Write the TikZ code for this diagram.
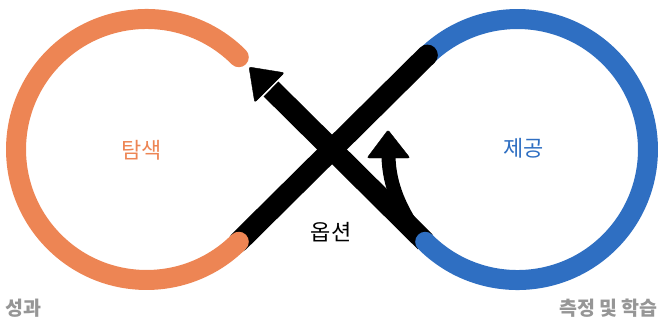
\documentclass[tikz,border=0pt]{standalone}
\usepackage{fontspec}
\newfontfamily\kr{Noto Sans CJK KR}
\usetikzlibrary{calc}
\definecolor{orng}{RGB}{237,133,84}
\definecolor{blu}{RGB}{47,111,194}
\definecolor{gry}{RGB}{150,150,150}
\begin{document}
\begin{tikzpicture}[x=1pt,y=1pt,
  ring/.style={line width=20pt,line cap=round},
  bar/.style={line width=21pt},
  thinbar/.style={line width=14pt},
  head/.style={fill=black,rounded corners=2pt},
  lbl/.style={inner sep=0pt,font=\kr\fontsize{22}{26}\selectfont},
  corner/.style={inner sep=0pt,text=gry,font=\kr\bfseries\fontsize{19.5}{23}\selectfont}]
\useasboundingbox (0,0) rectangle (659,322);
% circle centres and ends
\coordinate (L) at (146.5,172.5);
\coordinate (R) at (517.5,172.5);
\coordinate (L45) at (238.8,264.8);
\coordinate (L315) at (238.8,80.2);
\coordinate (R135) at (425.2,264.8);
\coordinate (R225) at (425.2,80.2);
% main arrow
\coordinate (Atip) at (249,255);
\coordinate (Abase) at (271,233);
\coordinate (Aw1) at (284.3,249.3);
\coordinate (Aw2) at (254.7,219.7);
\draw[bar] (R225) -- (Abase);
\draw[head] (Atip) -- (Aw1) -- (Aw2) -- cycle;
% branch arrow
\coordinate (Bstart) at (420,84);
\coordinate (Bbase) at (388.5,166);
\coordinate (Btip) at (388,192);
\coordinate (Bw1) at (367,164);
\coordinate (Bw2) at (410,164);
\draw[thinbar] (Bstart) .. controls (400,112) and (389,137) .. (Bbase);
\draw[head] (Btip) -- (Bw1) -- (Bw2) -- cycle;
% blue ring
\draw[ring,blu] (R225) arc[start angle=225,end angle=495,radius=130.5];
% black line
\draw[bar,line cap=round,shorten >=-3pt] (L315) -- (R135);
% orange ring
\draw[ring,orng] (L45) arc[start angle=45,end angle=315,radius=130.5];
% labels
\node[lbl,text=orng] (t1) at (141.5,172) {탐색};
\node[lbl,text=blu] (t2) at (523.5,174) {제공};
\node[lbl,text=black] (t3) at (331,90) {옵션};
\node[corner,anchor=west] (t4) at (5,14) {성과};
\node[corner,anchor=east] (t5) at (658,14) {측정 및 학습};
\end{tikzpicture}
\end{document}
